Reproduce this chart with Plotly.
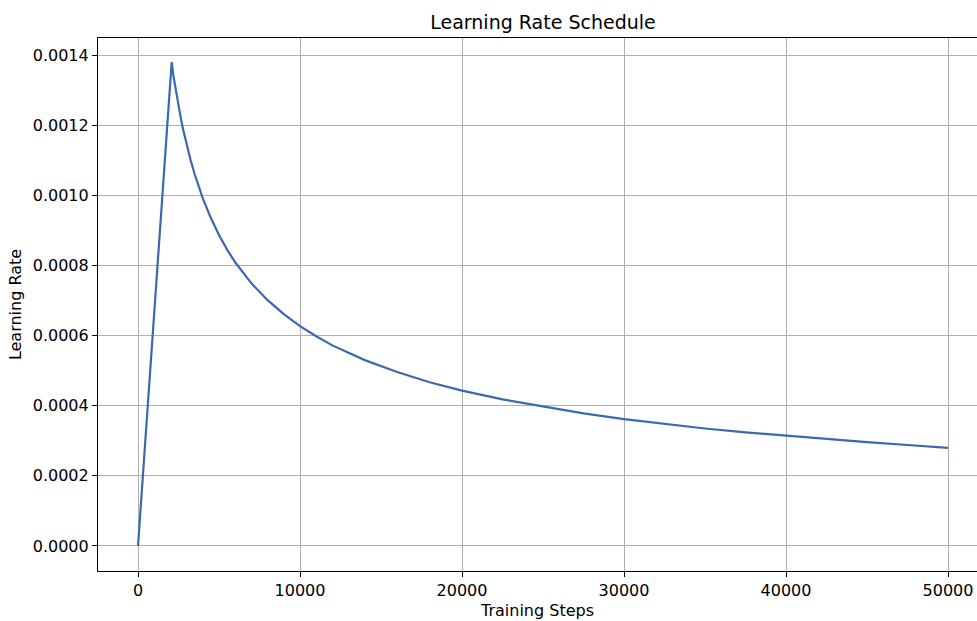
import plotly.graph_objects as go

steps = [0, 2080, 2200, 2350, 2500, 2650, 2800, 3000, 3250, 3500, 3750, 4000, 4500, 5000,
         5500, 6000, 7000, 8000, 9000, 10000, 11000, 12000, 14000, 16000, 18000, 20000,
         22500, 25000, 27500, 30000, 32500, 35000, 37500, 40000, 42500, 45000, 47500, 50000]
learning_rate = [0.0, 0.00138, 0.001337, 0.001293, 0.001254, 0.001218, 0.001185, 0.001145,
                 0.001100, 0.001060, 0.001024, 0.000991, 0.000935, 0.000887, 0.000845,
                 0.000809, 0.000749, 0.000701, 0.000661, 0.000627, 0.000598, 0.000572,
                 0.000530, 0.000496, 0.000467, 0.000443, 0.000418, 0.000397, 0.000378,
                 0.000362, 0.000348, 0.000335, 0.000324, 0.000314, 0.000304, 0.000296,
                 0.000288, 0.000280]

x_ticks = [0, 10000, 20000, 30000, 40000, 50000]
y_ticks = [0.0, 0.0002, 0.0004, 0.0006, 0.0008, 0.0010, 0.0012, 0.0014]

fig = go.Figure()
fig.add_trace(go.Scatter(x=steps, y=learning_rate, mode="lines",
                         line=dict(color="#3a69ad", width=2.2), showlegend=False))

font = "DejaVu Sans, sans-serif"
W, H = 977, 621
fig.update_layout(
    width=W, height=H,
    margin=dict(l=98, r=0, t=38, b=50),
    paper_bgcolor="white", plot_bgcolor="white",
    font=dict(family=font, size=16, color="black"),
    title=dict(text="Learning Rate Schedule", x=543 / W, xanchor="center",
               y=1 - 22 / H, yanchor="middle", font=dict(size=19, family=font)),
)
fig.update_xaxes(
    range=[-2469, 51790], tickvals=x_ticks, ticktext=[str(v) for v in x_ticks],
    showgrid=True, gridcolor="#b0b0b0", gridwidth=1.2,
    showline=True, linecolor="black", linewidth=1.2, mirror=True,
    ticks="outside", ticklen=5, tickcolor="black", zeroline=False,
    title=dict(text="Training Steps", standoff=5, font=dict(size=16)),
    tickfont=dict(size=16),
)
fig.update_yaxes(
    range=[-0.0000713, 0.0014485], tickvals=y_ticks, ticktext=[f"{v:.4f}" for v in y_ticks],
    showgrid=True, gridcolor="#b0b0b0", gridwidth=1.2,
    showline=True, linecolor="black", linewidth=1.2,
    ticks="outside", ticklen=5, tickcolor="black", zeroline=False,
    title=dict(text="Learning Rate", standoff=7, font=dict(size=16)),
    tickfont=dict(size=16),
)

fig.write_html(
    "out.html",
    config={"displayModeBar": False},
    post_script="document.body.style.margin='0';document.body.style.overflow='hidden';",
)
